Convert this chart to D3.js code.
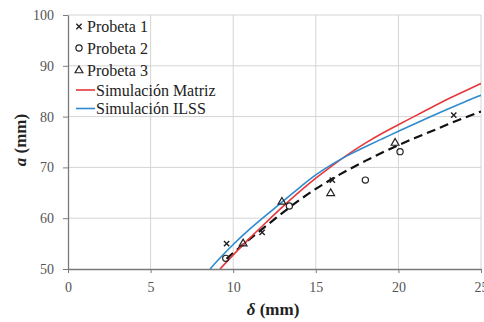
<!DOCTYPE html>
<html><head><meta charset="utf-8">
<script src="https://cdn.jsdelivr.net/npm/d3@7"></script>
<style>
body{margin:0;background:#fff;}
svg text{font-family:"Liberation Serif","Times New Roman",serif;}
</style></head>
<body><svg id="c" width="484" height="322"></svg>
<script>
// ---- data ----
const xTicks = [0, 5, 10, 15, 20, 25];
const yTicks = [50, 60, 70, 80, 90, 100];

const probeta1 = [[9.6, 55.0], [11.75, 57.2], [16.0, 67.5], [23.35, 80.3]];
const probeta2 = [[9.55, 52.1], [13.4, 62.4], [18.0, 67.5], [20.1, 73.1]];
const probeta3 = [[10.6, 55.0], [12.95, 63.2], [15.9, 64.9], [19.8, 74.8]];

const simMatriz = [[9.2,50],[10,52.8],[11,56.1],[12,59.2],[13,62.3],[14,65.2],[15,67.9],[16,70.4],[17,72.7],[18,74.8],[19,76.7],[20,78.4],[21,80.1],[22,81.8],[23,83.5],[24,85.0],[25,86.5]];
const simILSS = [[8.6,50],[9,51.5],[10,54.9],[11,57.9],[12,60.6],[13,63.3],[14,66.0],[15,68.6],[16,70.7],[17,72.5],[18,74.1],[19,75.6],[20,77.1],[21,78.6],[22,80.1],[23,81.5],[24,82.9],[25,84.2]];
const ajuste = [[9.6,52.0],[10,53.2],[11,55.9],[12,58.5],[13,61.1],[14,63.6],[15,65.8],[16,67.8],[17,69.6],[18,71.3],[19,72.9],[20,74.4],[21,75.8],[22,77.1],[23,78.5],[24,79.8],[25,81.0]];

const legendLabels = ["Probeta 1", "Probeta 2", "Probeta 3", "Simulación Matriz", "Simulación ILSS"];

// ---- layout ----
const svg = d3.select("#c");
const x = d3.scaleLinear().domain([0, 25]).range([68, 481]);
const y = d3.scaleLinear().domain([50, 100]).range([269, 15]);

// grid
svg.append("g").selectAll("line").data(xTicks.slice(1)).join("line")
  .attr("x1", d => x(d)).attr("x2", d => x(d)).attr("y1", y(50)).attr("y2", y(100))
  .attr("stroke", "#d4d4d4").attr("stroke-width", 1);
svg.append("g").selectAll("line").data(yTicks.slice(1)).join("line")
  .attr("x1", x(0)).attr("x2", x(25)).attr("y1", d => y(d)).attr("y2", d => y(d))
  .attr("stroke", "#d4d4d4").attr("stroke-width", 1);

// axes
const xAxis = svg.append("g").attr("transform", `translate(0,${y(50)})`)
  .call(d3.axisBottom(x).tickValues(xTicks).tickSize(4).tickSizeOuter(0).tickPadding(9));
const yAxis = svg.append("g").attr("transform", `translate(${x(0)},0)`)
  .call(d3.axisLeft(y).tickValues(yTicks).tickSize(5).tickSizeOuter(0).tickPadding(9));
[xAxis, yAxis].forEach(g => {
  g.select(".domain").attr("stroke", "#7a7a7a").attr("stroke-width", 1.3);
  g.selectAll(".tick line").attr("stroke", "#7a7a7a");
  g.selectAll(".tick text").attr("fill", "#555").style("font-size", "14px")
   .style("font-family", '"Liberation Serif", serif');
});

// clip
svg.append("clipPath").attr("id", "clip").append("rect")
  .attr("x", x(0)).attr("y", y(100)).attr("width", x(25) - x(0)).attr("height", y(50) - y(100));

const line = d3.line().x(d => x(d[0])).y(d => y(d[1])).curve(d3.curveBasis);
const plot = svg.append("g").attr("clip-path", "url(#clip)");

plot.append("path").datum(ajuste).attr("d", line).attr("fill", "none")
  .attr("stroke", "#111").attr("stroke-width", 2.2).attr("stroke-dasharray", "9,5");
plot.append("path").datum(simMatriz).attr("d", line).attr("fill", "none")
  .attr("stroke", "#e5383b").attr("stroke-width", 1.6);
plot.append("path").datum(simILSS).attr("d", line).attr("fill", "none")
  .attr("stroke", "#2e8bd0").attr("stroke-width", 1.6);

// markers
const xSym = d3.symbol().type(d3.symbolX).size(20);
const triSym = d3.symbol().type(d3.symbolTriangle).size(26);
function drawX(g, px, py) {
  g.append("path").attr("d", xSym()).attr("transform", `translate(${px},${py})`)
   .attr("fill", "none").attr("stroke", "#222").attr("stroke-width", 1.4);
}
function drawO(g, px, py) {
  g.append("circle").attr("cx", px).attr("cy", py).attr("r", 3.1)
   .attr("fill", "none").attr("stroke", "#222").attr("stroke-width", 1.2);
}
function drawT(g, px, py) {
  g.append("path").attr("d", triSym()).attr("transform", `translate(${px},${py})`)
   .attr("fill", "none").attr("stroke", "#222").attr("stroke-width", 1.2);
}
const mk = svg.append("g");
probeta1.forEach(d => drawX(mk, x(d[0]), y(d[1])));
probeta2.forEach(d => drawO(mk, x(d[0]), y(d[1])));
probeta3.forEach(d => drawT(mk, x(d[0]), y(d[1])));

// legend
const rows = [26.5, 48, 70, 90, 108.5];
const lg = svg.append("g");
drawX(lg, 79, rows[0]);
drawO(lg, 79, rows[1]);
drawT(lg, 79, rows[2] + 0.5);
lg.append("line").attr("x1", 76).attr("x2", 95).attr("y1", rows[3]).attr("y2", rows[3])
  .attr("stroke", "#e5383b").attr("stroke-width", 1.6);
lg.append("line").attr("x1", 76).attr("x2", 95).attr("y1", rows[4]).attr("y2", rows[4])
  .attr("stroke", "#2e8bd0").attr("stroke-width", 1.6);
legendLabels.forEach((t, i) => {
  lg.append("text").attr("x", i < 3 ? 87 : 96).attr("y", rows[i]).attr("dy", "0.35em")
    .attr("fill", "#222").style("font-size", "16px").text(t);
});

// axis titles
const yt = svg.append("text").attr("transform", "translate(26,140) rotate(-90)")
  .attr("text-anchor", "middle").attr("fill", "#222").style("font-size", "17px").style("font-weight", "bold");
yt.append("tspan").style("font-style", "italic").text("a");
yt.append("tspan").text(" (mm)");
const xt = svg.append("text").attr("x", 273).attr("y", 315)
  .attr("text-anchor", "middle").attr("fill", "#222").style("font-size", "17px").style("font-weight", "bold");
xt.append("tspan").style("font-style", "italic").text("δ");
xt.append("tspan").text(" (mm)");
</script>
</body></html>
